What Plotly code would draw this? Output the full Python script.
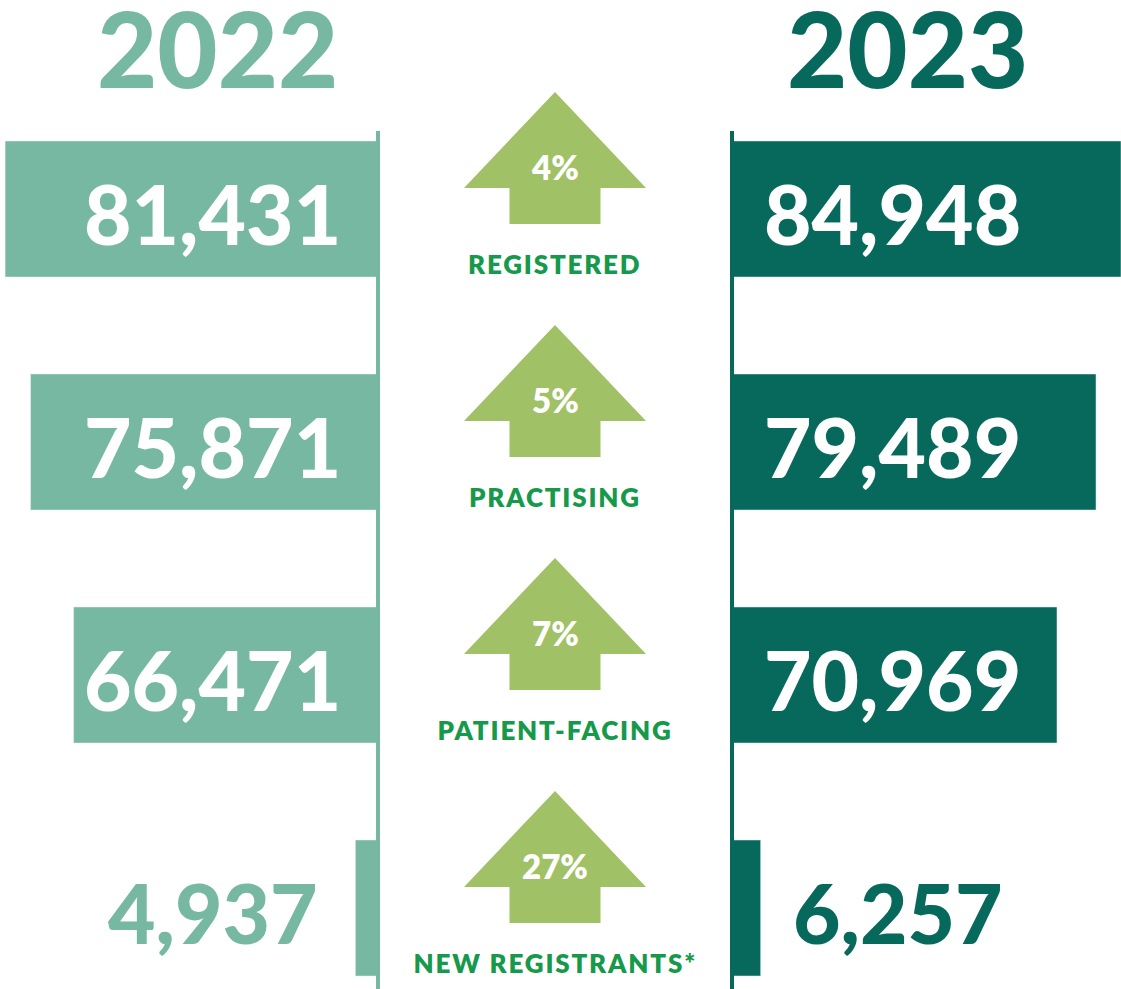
import plotly.graph_objects as go

# ---------------- data ----------------
categories = ["Registered", "Practising", "Patient-facing", "New registrants*"]
labels = ["REGISTERED", "PRACTISING", "PATIENT-FACING", "NEW REGISTRANTS*"]
values_2022 = [81431, 75871, 66471, 4937]
values_2023 = [84948, 79489, 70969, 6257]
pct_change = ["4%", "5%", "7%", "27%"]
years = ["2022", "2023"]

# ---------------- styles ----------------
LIGHT = "#77b8a3"
DARK = "#07695c"
ARROW = "#a0c165"
LABEL = "#16994a"
FONT = "Lato"
W, H = 1121, 989

LEFT_DOMAIN = [0, 378 / W]
RIGHT_DOMAIN = [732 / W, 1]
PX_PER_UNIT = 389 / 84948
ROW_PX = 233
rows = list(range(len(categories)))

fig = go.Figure()
fig.add_trace(go.Bar(y=rows, x=values_2022, orientation="h", marker_color=LIGHT,
                     width=136 / ROW_PX, xaxis="x", yaxis="y", name=years[0],
                     hoverinfo="x+name"))
fig.add_trace(go.Bar(y=rows, x=values_2023, orientation="h", marker_color=DARK,
                     width=136 / ROW_PX, xaxis="x2", yaxis="y", name=years[1],
                     hoverinfo="x+name"))

left_max = (LEFT_DOMAIN[1] - LEFT_DOMAIN[0]) * W / PX_PER_UNIT
right_max = (RIGHT_DOMAIN[1] - RIGHT_DOMAIN[0]) * W / PX_PER_UNIT

annotations = []
num_font = dict(family=FONT, size=82, weight=900)
for i, (v22, v23) in enumerate(zip(values_2022, values_2023)):
    inside22 = v22 > 20000
    annotations.append(dict(
        xref="x", yref="y", x=0 if inside22 else v22, y=i, yshift=-4,
        xanchor="right", yanchor="middle", xshift=-35, showarrow=False,
        text=f"{v22:,}", font=dict(num_font, color="white" if inside22 else LIGHT)))
    inside23 = v23 > 20000
    annotations.append(dict(
        xref="x2", yref="y", x=0 if inside23 else v23, y=i, yshift=-4,
        xanchor="left", yanchor="middle", xshift=30, showarrow=False,
        text=f"{v23:,}", font=dict(num_font, color="white" if inside23 else DARK)))

CX = 555 / W
shapes = []
for i in rows:
    hh = 91 / W
    hs = 45.5 / W
    tip = i - 117 / ROW_PX
    base = i - 21 / ROW_PX
    bot = i + 15 / ROW_PX
    path = (f"M {CX-hh},{base} L {CX},{tip} L {CX+hh},{base} L {CX+hs},{base} "
            f"L {CX+hs},{bot} L {CX-hs},{bot} L {CX-hs},{base} Z")
    shapes.append(dict(type="path", xref="paper", yref="y", path=path,
                       fillcolor=ARROW, line=dict(width=0), layer="above"))
    annotations.append(dict(xref="paper", yref="y", x=CX, y=i - 0.182, showarrow=False,
                            text=pct_change[i], xanchor="center", yanchor="middle",
                            font=dict(family=FONT, size=33, weight=800, color="white")))
    annotations.append(dict(xref="paper", yref="y", x=CX, y=i + 0.236, showarrow=False,
                            text=labels[i], xanchor="center", yanchor="middle",
                            font=dict(family=FONT, size=26, weight=800, color=LABEL)))

# axis lines
line_top = 1 - 131 / H
shapes.append(dict(type="line", xref="paper", yref="paper", x0=LEFT_DOMAIN[1], x1=LEFT_DOMAIN[1],
                   y0=0, y1=line_top, line=dict(color=LIGHT, width=4)))
shapes.append(dict(type="line", xref="paper", yref="paper", x0=RIGHT_DOMAIN[0], x1=RIGHT_DOMAIN[0],
                   y0=0, y1=line_top, line=dict(color=DARK, width=4)))

# year titles
annotations.append(dict(xref="paper", yref="paper", x=217 / W, y=1 - 47 / H, showarrow=False,
                        text=years[0], xanchor="center", yanchor="middle",
                        font=dict(family=FONT, size=104, weight=900, color=LIGHT)))
annotations.append(dict(xref="paper", yref="paper", x=907 / W, y=1 - 47 / H, showarrow=False,
                        text=years[1], xanchor="center", yanchor="middle",
                        font=dict(family=FONT, size=104, weight=900, color=DARK)))

y_top = -209 / ROW_PX
y_bot = (H - 209) / ROW_PX
axis_off = dict(showgrid=False, zeroline=False, showticklabels=False, showline=False, ticks="")
fig.update_layout(
    width=W, height=H, margin=dict(l=0, r=0, t=0, b=0),
    paper_bgcolor="white", plot_bgcolor="white", showlegend=False,
    xaxis=dict(domain=LEFT_DOMAIN, range=[left_max, 0], anchor="y", **axis_off),
    xaxis2=dict(domain=RIGHT_DOMAIN, range=[0, right_max], anchor="y", **axis_off),
    yaxis=dict(range=[y_bot, y_top], anchor="x", **axis_off),
    shapes=shapes, annotations=annotations, barmode="overlay",
)

post = (
    "document.body.style.margin='0';document.body.style.overflow='hidden';"
    "var L=" + str(labels).replace("'", '"') + ";"
    "document.querySelectorAll('.annotation-text').forEach(function(t){"
    "if(L.indexOf(t.textContent)>=0){t.style.letterSpacing='1.8px';}});"
)
fig.write_html("out.html", config={"displayModeBar": False}, post_script=post)
